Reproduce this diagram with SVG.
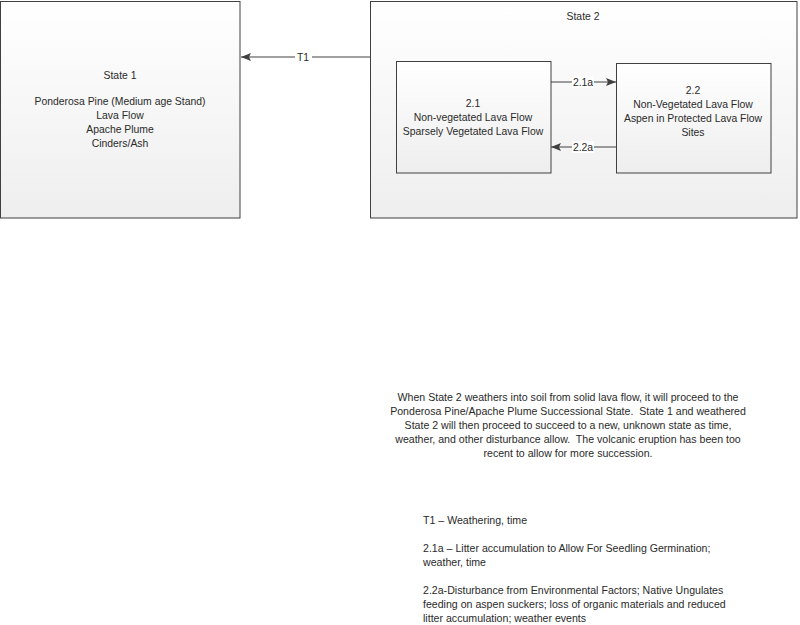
<svg xmlns="http://www.w3.org/2000/svg" width="800" height="625" viewBox="0 0 800 625">
<defs>
<linearGradient id="g" x1="0" y1="0" x2="0" y2="1">
<stop offset="0" stop-color="#ffffff"/>
<stop offset="1" stop-color="#eeeeee"/>
</linearGradient>
<marker id="ah" markerWidth="10" markerHeight="8" refX="10" refY="4" orient="auto" markerUnits="userSpaceOnUse">
<path d="M0,0 L10,4 L0,8 L2,4 Z" fill="#404040"/>
</marker>
</defs>
<style>
.box{fill:url(#g);stroke:#404040;stroke-width:1}
.t{font-family:"Liberation Sans",Arial,sans-serif;font-size:10.4px;fill:#2a2a2a;text-anchor:middle}
.p{font-family:"Liberation Sans",Arial,sans-serif;font-size:10.6px;fill:#2a2a2a;text-anchor:middle;white-space:pre}
.n{font-family:"Liberation Sans",Arial,sans-serif;font-size:10.6px;fill:#2a2a2a}
.c{stroke:#404040;stroke-width:1;fill:none;marker-end:url(#ah)}
.lb{font-family:"Liberation Sans",Arial,sans-serif;font-size:10.4px;fill:#2a2a2a;text-anchor:middle}
</style>
<rect width="800" height="625" fill="#ffffff"/>
<g id="state1">
<rect class="box" x="0.5" y="1.5" width="239.5" height="216.5"/>
<text class="t" x="120" y="79">State 1</text>
<text class="t" x="120" y="105">Ponderosa Pine (Medium age Stand)</text>
<text class="t" x="120" y="119">Lava Flow</text>
<text class="t" x="120" y="133">Apache Plume</text>
<text class="t" x="120" y="147">Cinders/Ash</text>
</g>
<g id="state2">
<rect class="box" x="370.5" y="1.5" width="426.5" height="216.5"/>
<text class="t" x="583" y="20">State 2</text>
</g>
<g id="s21">
<rect class="box" x="396.5" y="61.5" width="154.5" height="111.5"/>
<text class="t" x="473" y="107">2.1</text>
<text class="t" x="473" y="121">Non-vegetated Lava Flow</text>
<text class="t" x="473" y="135">Sparsely Vegetated Lava Flow</text>
</g>
<g id="s22">
<rect class="box" x="616.5" y="63.5" width="154.5" height="109.5"/>
<text class="t" x="693" y="94">2.2</text>
<text class="t" x="693" y="108">Non-Vegetated Lava Flow</text>
<text class="t" x="693" y="122">Aspen in Protected Lava Flow</text>
<text class="t" x="693" y="136">Sites</text>
</g>
<g id="connectors">
<line class="c" x1="370" y1="57" x2="241" y2="57"/>
<rect x="295" y="51" width="17" height="12" fill="#ffffff"/>
<text class="lb" x="303" y="61">T1</text>
<line class="c" x1="551" y1="82" x2="616" y2="82"/>
<rect x="572" y="76" width="22" height="12" fill="#ffffff"/>
<text class="lb" x="583" y="86">2.1a</text>
<line class="c" x1="616" y1="147" x2="551" y2="147"/>
<rect x="572" y="141" width="22" height="12" fill="#ffffff"/>
<text class="lb" x="583" y="151">2.2a</text>
</g>
<g id="paragraph">
<text class="p" x="568" y="401">When State 2 weathers into soil from solid lava flow, it will proceed to the</text>
<text class="p" x="568" y="415">Ponderosa Pine/Apache Plume Successional State.  State 1 and weathered</text>
<text class="p" x="568" y="429">State 2 will then proceed to succeed to a new, unknown state as time,</text>
<text class="p" x="568" y="443">weather, and other disturbance allow.  The volcanic eruption has been too</text>
<text class="p" x="568" y="457">recent to allow for more succession.</text>
</g>
<g id="notes">
<text class="n" x="423" y="524">T1 – Weathering, time</text>
<text class="n" x="423" y="552">2.1a – Litter accumulation to Allow For Seedling Germination;</text>
<text class="n" x="423" y="566">weather, time</text>
<text class="n" x="423" y="594">2.2a-Disturbance from Environmental Factors; Native Ungulates</text>
<text class="n" x="423" y="608">feeding on aspen suckers; loss of organic materials and reduced</text>
<text class="n" x="423" y="622">litter accumulation; weather events</text>
</g>
</svg>
